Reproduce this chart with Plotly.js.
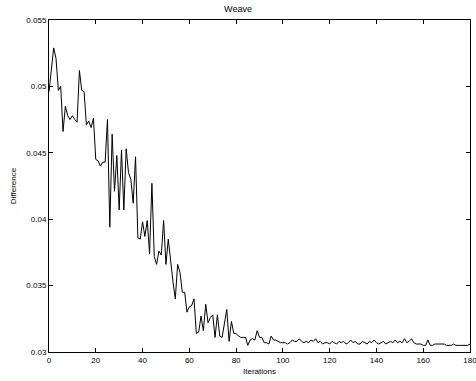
<!DOCTYPE html>
<html>
<head>
<meta charset="utf-8">
<script src="https://cdn.plot.ly/plotly-3.0.1.min.js"></script>
<style>html,body{margin:0;padding:0;background:#fff;}#chart{width:476px;height:381px;}</style>
</head>
<body>
<div id="chart"></div>
<script>
var chartTitle = "Weave";
var xLabel = "Iterations";
var yLabel = "Difference";
var xTickVals = [0, 20, 40, 60, 80, 100, 120, 140, 160, 180];
var yTickVals = [0.03, 0.035, 0.04, 0.045, 0.05, 0.055];
var yTickText = ["0.03", "0.035", "0.04", "0.045", "0.05", "0.055"];

var difference = [
  0.0496, 0.0512, 0.0529, 0.0521, 0.0497, 0.0500, 0.0466, 0.0485, 0.0478, 0.0475,
  0.0478, 0.0475, 0.0473, 0.0512, 0.0497, 0.0496, 0.0471, 0.0474, 0.0469, 0.0476,
  0.0445, 0.0444, 0.0440, 0.0443, 0.0443, 0.0475, 0.0394, 0.0464, 0.0421, 0.0448,
  0.0407, 0.0452, 0.0407, 0.0453, 0.0435, 0.0430, 0.0412, 0.0447, 0.0386, 0.0385,
  0.0398, 0.0387, 0.0399, 0.0374, 0.0427, 0.0372, 0.0366, 0.0376, 0.0373, 0.0399,
  0.0366, 0.0385, 0.0367, 0.0353, 0.0340, 0.0366, 0.0360, 0.0345, 0.0345, 0.0330,
  0.0334, 0.0335, 0.0340, 0.0314, 0.0315, 0.0327, 0.0316, 0.0336, 0.0322, 0.0326,
  0.0328, 0.0311, 0.0328, 0.0312, 0.0311, 0.0321, 0.0332, 0.0308, 0.0323, 0.0314,
  0.0314, 0.0312, 0.0311, 0.0311, 0.0311, 0.0305, 0.0309, 0.0310, 0.0309, 0.0316,
  0.0311, 0.0311, 0.0307, 0.0307, 0.0306, 0.0312, 0.0309, 0.0309, 0.0308, 0.0307,
  0.0307, 0.0307, 0.0306, 0.0307, 0.0309, 0.0308, 0.0308, 0.0310, 0.0308, 0.0307,
  0.0308, 0.0307, 0.0309, 0.0308, 0.0310, 0.0307, 0.0308, 0.0306, 0.0307, 0.0307,
  0.0306, 0.0308, 0.0307, 0.0306, 0.0308, 0.0307, 0.0308, 0.0306, 0.0307, 0.0309,
  0.0307, 0.0308, 0.0306, 0.0306, 0.0308, 0.0307, 0.0306, 0.0308, 0.0307, 0.0309,
  0.0307, 0.0306, 0.0307, 0.0308, 0.0306, 0.0307, 0.0308, 0.0307, 0.0309, 0.0307,
  0.0308, 0.0307, 0.0310, 0.0307, 0.0308, 0.0310, 0.0307, 0.0306, 0.0306, 0.0306,
  0.0305, 0.0305, 0.0309, 0.0305, 0.0305, 0.0306, 0.0306, 0.0306, 0.0306, 0.0306,
  0.0305, 0.0305, 0.0305, 0.0306, 0.0305, 0.0305, 0.0305, 0.0305, 0.0305, 0.0305,
  0.0306
];
var iterations = difference.map(function (_, i) { return i; });

var font = "Liberation Sans, Arial, Helvetica, sans-serif";

var trace = {
  x: iterations,
  y: difference,
  type: "scatter",
  mode: "lines",
  line: {color: "#000000", width: 1},
  hoverinfo: "skip",
  cliponaxis: false
};

var layout = {
  width: 476,
  height: 381,
  margin: {l: 49, r: 6, t: 20, b: 29, pad: 0},
  paper_bgcolor: "#ffffff",
  plot_bgcolor: "#ffffff",
  showlegend: false,
  font: {family: font, size: 8, color: "#000000"},
  title: {text: chartTitle, font: {family: font, size: 9, color: "#000000"}, x: 0.5, xanchor: "center", y: 0.985, yanchor: "top"},
  xaxis: {
    range: [0, 180],
    tickvals: xTickVals,
    ticks: "inside",
    ticklen: 4,
    tickwidth: 1,
    tickcolor: "#000000",
    showline: true,
    linecolor: "#000000",
    linewidth: 1,
    mirror: "allticks",
    showgrid: false,
    zeroline: false,
    ticklabeloverflow: "allow",
    automargin: false,
    tickfont: {family: font, size: 8, color: "#000000"},
    title: {text: xLabel, font: {family: font, size: 8, color: "#000000"}, standoff: 4}
  },
  yaxis: {
    range: [0.03, 0.055],
    tickvals: yTickVals,
    ticktext: yTickText,
    ticks: "inside",
    ticklen: 4,
    tickwidth: 1,
    tickcolor: "#000000",
    showline: true,
    linecolor: "#000000",
    linewidth: 1,
    mirror: "allticks",
    showgrid: false,
    zeroline: false,
    automargin: false,
    tickfont: {family: font, size: 8, color: "#000000"},
    title: {text: yLabel, font: {family: font, size: 8, color: "#000000"}, standoff: 8}
  }
};

Plotly.newPlot("chart", [trace], layout, {displayModeBar: false, staticPlot: true});
</script>
</body>
</html>
